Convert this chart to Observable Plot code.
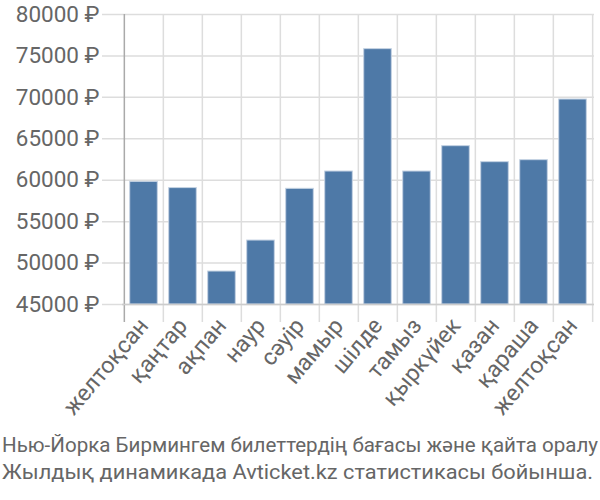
<!DOCTYPE html>
<html>
<head>
<meta charset="utf-8">
<script src="https://cdn.jsdelivr.net/npm/d3@7"></script>
<script src="https://cdn.jsdelivr.net/npm/@observablehq/plot@0.6"></script>
<style>
  body { margin: 0; background: #fff; }
  #chart svg { display: block; }
  #cap { font-family: "Roboto", sans-serif; font-size: 21px; color: #666; line-height: 27px; margin-top: -8px; white-space: nowrap; position: relative; }
  #cap div { display: inline-block; transform-origin: 0 0; }
</style>
</head>
<body>
<div id="chart"></div>
<div id="cap"></div>
<script>
const months = ["желтоқсан", "қаңтар", "ақпан", "наур", "сәуір", "мамыр", "шілде", "тамыз", "қыркүйек", "қазан", "қараша", "желтоқсан"];
const prices = [59800, 59050, 48980, 52720, 58960, 61050, 75820, 61050, 64110, 62180, 62420, 69740];
const yTicks = [45000, 50000, 55000, 60000, 65000, 70000, 75000, 80000];
const captionLines = ["Нью-Йорка Бирмингем билеттердің бағасы және қайта оралу", "Жылдық динамикада Avticket.kz статистикасы бойынша."];
const captionWidths = [596, 591];

const data = months.map((m, i) => ({i, m, v: prices[i]}));
const idx = months.map((_, i) => i);
const W = 600, H = 440, ML = 122, MR = 6, MT = 14, MB = 136;
const step = (W - ML - MR) / months.length;

const chart = Plot.plot({
  width: W, height: H,
  marginLeft: ML, marginRight: MR, marginTop: MT, marginBottom: MB,
  style: {fontFamily: "Roboto, sans-serif", fontSize: "22px", color: "#666", background: "transparent"},
  x: {type: "band", domain: idx, padding: 0, label: null},
  y: {domain: [45000, 80000], label: null},
  marks: [
    Plot.ruleY(yTicks, {stroke: "#ddd", strokeWidth: 1.5, insetLeft: -20}),
    Plot.ruleX(idx, {x: d => d, dx: -step / 2, stroke: d => d === 0 ? "#aaa" : "#ddd", strokeWidth: 1.5, insetBottom: -18}),
    Plot.ruleX([11], {x: d => d, dx: step / 2, stroke: "#ddd", strokeWidth: 1.5, insetBottom: -18}),
    Plot.barY(data, {x: "i", y1: 45000, y2: "v", fill: "#4e79a7", stroke: "#c5d3e3", strokeWidth: 1, insetLeft: 5.7, insetRight: 5.7}),
    Plot.ruleY([45000], {stroke: "#ccc", strokeWidth: 1.5}),
    Plot.axisY(yTicks, {tickSize: 0, tickPadding: 23, tickFormat: d => d + " ₽", fill: "#666", fontSize: 22.5, label: null}),
    Plot.axisX(idx, {tickSize: 0, tickPadding: 17, tickRotate: -50, tickFormat: i => months[i], fill: "#666", fontSize: 23, label: null})
  ]
});
document.getElementById("chart").appendChild(chart);
const cap = document.getElementById("cap");
captionLines.forEach((t, k) => {
  const row = document.createElement("div");
  row.style.display = "block";
  row.style.height = "27px";
  const d = document.createElement("div");
  d.textContent = t;
  row.appendChild(d);
  cap.appendChild(row);
  const w = d.getBoundingClientRect().width;
  d.style.transform = `translateX(2px) scaleX(${captionWidths[k] / w})`;
});
</script>
</body>
</html>
